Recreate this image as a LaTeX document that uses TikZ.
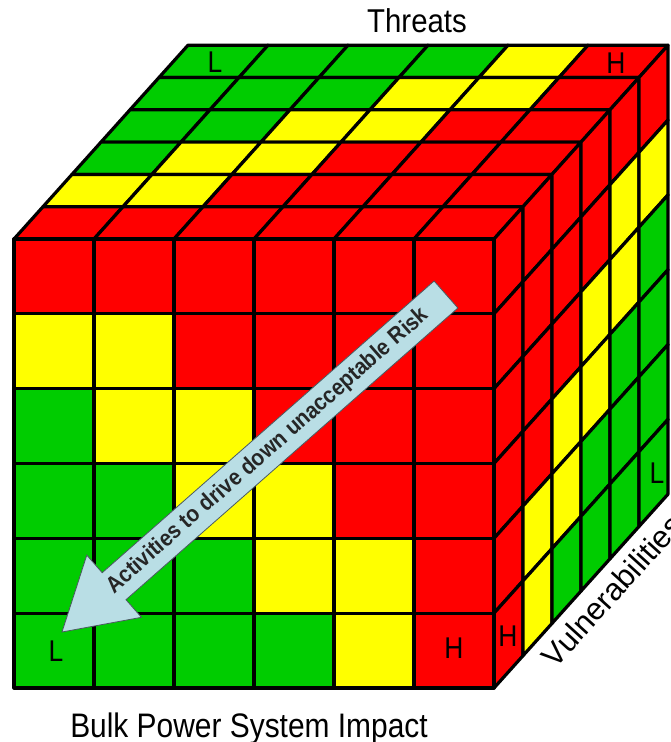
\documentclass[tikz,border=0pt]{standalone}
\usepackage{fontspec}
\setmainfont{Liberation Sans}
\usepackage{graphicx}
\definecolor{cR}{HTML}{FF0000}
\definecolor{cY}{HTML}{FFFF00}
\definecolor{cG}{HTML}{00CC00}
\definecolor{arrowfill}{HTML}{B9DEE5}
\definecolor{arrowline}{HTML}{4A5A60}
\begin{document}
\begin{tikzpicture}[x=1pt,y=-1pt,
  cell/.style={draw=black,line width=3.2pt,line join=round},
  letter/.style={font=\fontsize{30}{30}\selectfont,inner sep=0pt},
  axislabel/.style={inner sep=0pt,anchor=base}]
\useasboundingbox (0,0) rectangle (670,742);
\fill[white] (0,0) rectangle (670,742);
% top face (rows from back to front)
\foreach \rowcols [count=\ti] in {{cG,cG,cG,cG,cY,cR},{cG,cG,cG,cY,cY,cR},{cG,cG,cY,cY,cR,cR},{cG,cY,cY,cR,cR,cR},{cY,cY,cR,cR,cR,cR},{cR,cR,cR,cR,cR,cR}}{
  \foreach \col [count=\ci] in \rowcols {
    \pgfmathsetmacro{\ka}{6-\ti}
    \pgfmathsetmacro{\kb}{7-\ti}
    \draw[cell,fill=\col] ({14+80*(\ci-1)+29.0*\ka},{239-32.3*\ka}) -- ({14+80*\ci+29.0*\ka},{239-32.3*\ka}) -- ({14+80*\ci+29.0*\kb},{239-32.3*\kb}) -- ({14+80*(\ci-1)+29.0*\kb},{239-32.3*\kb}) -- cycle;
  }
}
% right face (rows top to bottom, columns front to back)
\foreach \rowcols [count=\ri] in {{cR,cR,cR,cR,cR,cR},{cR,cR,cR,cR,cY,cY},{cR,cR,cR,cY,cY,cG},{cR,cR,cY,cY,cG,cG},{cR,cY,cY,cG,cG,cG},{cR,cY,cG,cG,cG,cG}}{
  \foreach \col [count=\ji] in \rowcols {
    \draw[cell,fill=\col] ({494+29.0*(\ji-1)},{239+74.83*(\ri-1)-32.3*(\ji-1)}) -- ({494+29.0*\ji},{239+74.83*(\ri-1)-32.3*\ji}) -- ({494+29.0*\ji},{239+74.83*\ri-32.3*\ji}) -- ({494+29.0*(\ji-1)},{239+74.83*\ri-32.3*(\ji-1)}) -- cycle;
  }
}
% front face
\foreach \rowcols [count=\ri] in {{cR,cR,cR,cR,cR,cR},{cY,cY,cR,cR,cR,cR},{cG,cY,cY,cR,cR,cR},{cG,cG,cY,cY,cR,cR},{cG,cG,cG,cY,cY,cR},{cG,cG,cG,cG,cY,cR}}{
  \foreach \col [count=\ci] in \rowcols {
    \draw[cell,fill=\col] ({14+80*(\ci-1)},{239+74.83*(\ri-1)}) rectangle ({14+80*\ci},{239+74.83*\ri});
  }
}
% corner letters
\node[letter] (frontL) at (56,651) {\scalebox{0.88}[1]{L}};
\node[letter] (frontH) at (454,648) {\scalebox{0.88}[1]{H}};
\node[letter] (topL) at (215,62) {\scalebox{0.88}[1]{L}};
\node[letter] (topH) at (616,63) {\scalebox{0.88}[1]{H}};
\node[letter] (rightH) at (508,636) {\scalebox{0.88}[1]{H}};
\node[letter] (rightL) at (657,473) {\scalebox{0.88}[1]{L}};
% arrow
\draw[fill=arrowfill,draw=arrowline,line width=0.8pt,line join=miter]
  (434.1,281) -- (457.9,308) -- (126,599.7) -- (141.4,617.3) -- (62,632) -- (86.8,555.1) -- (102.2,572.7) -- cycle;
\node[font=\bfseries\fontsize{23}{23}\selectfont,rotate=41.3,text=black!85,inner sep=0pt] (arrowtext) at (268,451) {\scalebox{0.9}[1]{Activities to drive down unacceptable Risk}};
% axis labels
\node[axislabel,font=\fontsize{33}{33}\selectfont] (threats) at (417,32) {\scalebox{0.89}[1]{Threats}};
\node[axislabel,font=\fontsize{34}{34}\selectfont] (impact) at (249,737) {\scalebox{0.88}[1]{Bulk Power System Impact}};
\node[font=\fontsize{31}{31}\selectfont,rotate=47.8,anchor=north west,inner sep=0pt] (vuln) at (539,654) {Vulnerabilities};
\end{tikzpicture}
\end{document}
